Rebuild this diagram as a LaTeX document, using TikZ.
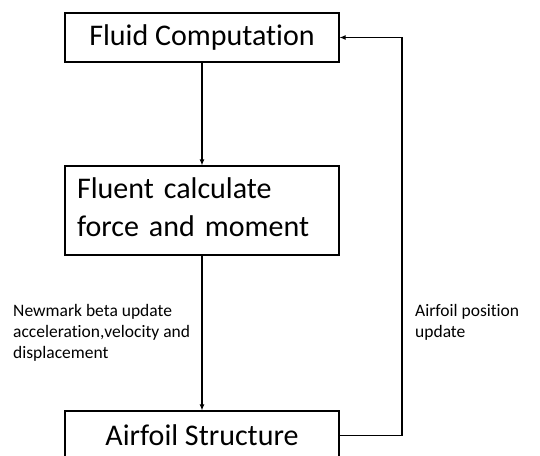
\documentclass[tikz,border=0pt]{standalone}
\usepackage{fontspec}
\setmainfont{Carlito}[Ligatures={NoCommon}]
\usetikzlibrary{arrows.meta}
\begin{document}
\begin{tikzpicture}[x=1pt,y=-1pt,
  box/.style={draw=black,line width=1.2pt,minimum width=274pt,inner sep=0pt,
    font=\fontsize{30}{38}\selectfont},
  conn/.style={line width=1.1pt,-{Latex[length=6pt,width=5pt]}},
  lbl/.style={inner sep=0pt,anchor=north west,align=left,
    font=\fontsize{17.5}{21}\selectfont}]
\clip (0,0) rectangle (540,455);
\useasboundingbox (0,0) rectangle (540,455);
\node[box,minimum height=49pt] (fluid) at (202,37.5) {Fluid Computation};
\node[box,minimum height=89pt,text width=250pt,inner xsep=12pt,align=left] (fluent) at (202,210.5)
  {Fluent calculate\\force and moment\rule[-6pt]{0pt}{0pt}};
\node[box,minimum height=49pt] (struct) at (202,435.5) {Airfoil Structure};
\coordinate (corner) at (402,435.5);
\draw[conn] (fluid.south) -- (fluent.north);
\draw[conn] (fluent.south) -- (struct.north);
\draw[conn] (struct.east) -- (corner) |- (fluid.east);
\node[lbl] (newmark) at (13,304) {Newmark beta update\\acceleration,velocity and\\displacement};
\node[lbl] (posupd) at (415,304) {Airfoil position\\update};
\end{tikzpicture}
\end{document}
